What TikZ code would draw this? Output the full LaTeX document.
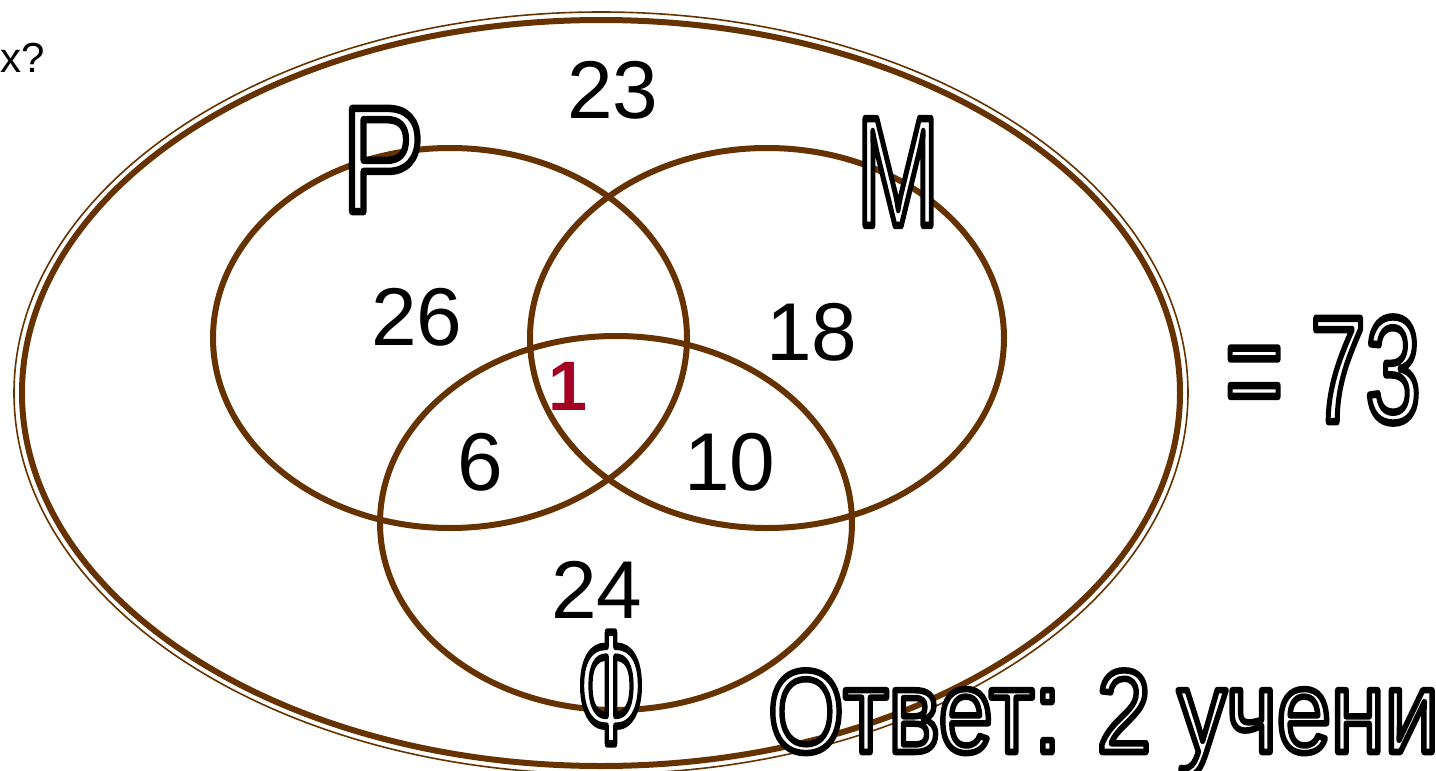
\documentclass[tikz,border=0pt]{standalone}
\usepackage{fontspec}
\setmainfont{Liberation Sans}
\usepackage{graphicx}
\definecolor{br}{HTML}{663300}
\definecolor{onered}{HTML}{A50021}
% #1 font size, #2 horizontal scale, #3 outline width, #4 text : white glyphs with black outline
\newcommand\outl[4]{{\fontsize{#1}{#1}\selectfont\scalebox{#2}[1]{\special{pdf:literal direct 2 Tr #3 w 1 j 0 G 1 g}#4\special{pdf:literal direct 0 Tr 0 g 0 G}}}}
\tikzset{
  ring/.style={draw=br, line width=6pt},
  num/.style={inner sep=0pt, font=\fontsize{82}{82}\selectfont},
  big/.style={inner sep=0pt},
}
\begin{document}
\begin{tikzpicture}[x=1pt,y=-1pt]
\useasboundingbox (0,0) rectangle (1436,771);
\fill[white] (0,0) rectangle (1436,771);
% outer double ellipse
\draw[br, line width=1.6pt] (601,393) ellipse [x radius=587pt, y radius=381pt];
\draw[br, line width=6pt] (601,393) ellipse [x radius=579pt, y radius=373pt];
% three sets
\draw[ring] (450,338) ellipse [x radius=237pt, y radius=190pt];
\draw[ring] (767,338) ellipse [x radius=237pt, y radius=190pt];
\draw[ring] (616,523) ellipse [x radius=236pt, y radius=187pt];
% numbers
\node[num] (n23) at (613,90) {23};
\node[num] (n26) at (417,317) {26};
\node[num] (n18) at (812,332) {18};
\node[num] (n6) at (480,462) {6};
\node[num] (n10) at (730,462) {10};
\node[num] (n24) at (597,590) {24};
\node[inner sep=0pt, text=onered, font=\fontsize{70}{70}\selectfont\bfseries] (n1) at (568,386) {1};
% top-left fragment
\node[inner sep=0pt, anchor=base east, font=\fontsize{42}{42}\selectfont] (q) at (45,72) {x?};
% outlined labels
\node[big] (P) at (383,160) {\outl{150}{0.82}{7.5}{P}};
\node[big] (M) at (898,172) {\outl{155}{0.64}{7.5}{M}};
\node[big] (F) at (611,688) {\outl{160}{0.56}{7.5}{Ф}};
\node[big] (eq) at (1323,370) {\outl{150}{0.66}{7.5}{= 73}};
\node[inner sep=0pt, anchor=base west] (ans) at (768,752) {\outl{117}{0.83}{6.5}{Ответ: 2 учени}};
\end{tikzpicture}
\end{document}
